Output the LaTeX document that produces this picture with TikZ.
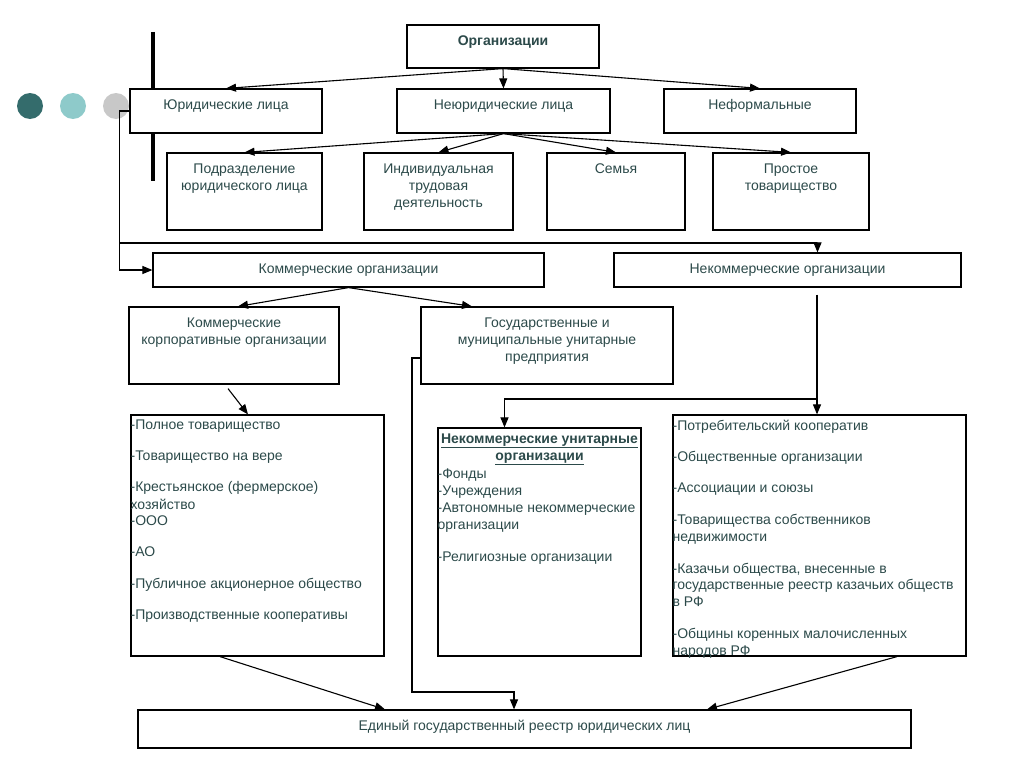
\documentclass[tikz,border=0pt]{standalone}
\usepackage{fontspec}
\setmainfont{Liberation Sans}
\usetikzlibrary{arrows.meta}

\definecolor{txtgreen}{RGB}{44,74,74}
\definecolor{dotdark}{RGB}{52,108,108}
\definecolor{dotlight}{RGB}{142,202,202}
\definecolor{dotgray}{RGB}{200,200,200}

\tikzset{
  orgbox/.style={draw, line width=1.2pt, fill=white, inner sep=0pt},
  boxtext/.style={anchor=north, inner sep=0pt, yshift=-11pt, align=center,
    text=txtgreen, font=\fontsize{14}{17}\selectfont},
  listtext/.style={anchor=north west, inner sep=0pt, yshift=-5.5pt, xshift=0pt,
    align=left, text=txtgreen, font=\fontsize{14}{16.5}\selectfont},
  link/.style={line width=1.1pt, -{Triangle[length=10pt,width=8pt]}},
  wire/.style={line width=1.1pt},
}

\begin{document}
\begin{tikzpicture}[x=1pt, y=-1pt]
\useasboundingbox (0,0) rectangle (1024,768);

% bullets and bar
\fill[dotdark] (30,106) circle (13pt);
\fill[dotlight] (73,106) circle (13pt);
\fill[dotgray] (116,106) circle (13pt);
\draw[line width=4pt] (153,32) -- (153,181);

% top levels
\node[orgbox, minimum width=192pt, minimum height=43pt,
  label={[boxtext, font=\bfseries\fontsize{14}{17}\selectfont]north:Организации}] (org) at (503,46.5) {};

\node[orgbox, minimum width=192pt, minimum height=44pt,
  label={[boxtext]north:Юридические лица}] (jur) at (226,111) {};
\node[orgbox, minimum width=213pt, minimum height=44pt,
  label={[boxtext]north:Неюридические лица}] (nejur) at (503.5,111) {};
\node[orgbox, minimum width=192pt, minimum height=44pt,
  label={[boxtext]north:Неформальные}] (neform) at (760,111) {};

\node[orgbox, minimum width=155pt, minimum height=77pt,
  label={[boxtext]north:{Подразделение\\юридического лица}}] (podr) at (244.5,191.5) {};
\node[orgbox, minimum width=149pt, minimum height=77pt,
  label={[boxtext]north:{Индивидуальная\\трудовая\\деятельность}}] (ind) at (438.5,191.5) {};
\node[orgbox, minimum width=138pt, minimum height=77pt,
  label={[boxtext]north:Семья}] (sem) at (616,191.5) {};
\node[orgbox, minimum width=156pt, minimum height=77pt,
  label={[boxtext]north:{Простое\\товарищество}}] (prost) at (791,191.5) {};

\draw[link] (org.south) -- (jur.north);
\draw[link] (org.south) -- (nejur.north);
\draw[link] (org.south) -- (neform.north);

\foreach \c in {podr, ind, sem, prost}
  \draw[link] (nejur.south) -- (\c.north);

% commercial / non-commercial
\node[orgbox, minimum width=391pt, minimum height=34pt,
  label={[boxtext]north:Коммерческие организации}] (komm) at (348.5,270) {};
\node[orgbox, minimum width=347pt, minimum height=34pt,
  label={[boxtext]north:Некоммерческие организации}] (nekomm) at (787.5,270) {};

\coordinate (split) at (120,243);
\draw[link] (jur.west) -- ++(-10,0) |- (komm.west);
\draw[link] (split) -| ([xshift=30pt]nekomm.north);

\node[orgbox, minimum width=210pt, minimum height=77pt,
  label={[boxtext]north:{Коммерческие\\корпоративные организации}}] (kkorp) at (234,345.5) {};
\node[orgbox, minimum width=252pt, minimum height=77pt,
  label={[boxtext]north:{Государственные и\\муниципальные унитарные\\предприятия}}] (gmup) at (547,345.5) {};

\draw[link] (komm.south) -- ([xshift=4pt]kkorp.north);
\draw[link] (komm.south) -- ([xshift=-75pt]gmup.north);

% lists
\node[orgbox, minimum width=253pt, minimum height=241pt,
  label={[listtext]north west:{-Полное товарищество\\[14.5pt]
    -Товарищество на вере\\[14.5pt]
    -Крестьянское (фермерское)\\[1pt]
    хозяйство\\
    -ООО\\[14.5pt]
    -АО\\[15pt]
    -Публичное акционерное общество\\[15pt]
    -Производственные кооперативы}}] (llist) at (257.5,535.5) {};

\node[orgbox, minimum width=203pt, minimum height=228pt,
  label={[boxtext, yshift=5pt, font=\bfseries\fontsize{14}{17}\selectfont]north:{\underline{Некоммерческие унитарные}\\\underline{организации}}},
  label={[listtext, yshift=-36pt, font=\fontsize{14}{17}\selectfont]north west:{-Фонды\\
    -Учреждения\\
    -Автономные некоммерческие\\
    организации\\[15pt]
    -Религиозные организации}}] (mlist) at (539.5,542) {};

\node[orgbox, minimum width=293pt, minimum height=241pt,
  label={[listtext]north west:{-Потребительский кооператив\\[14.5pt]
    -Общественные организации\\[14.5pt]
    -Ассоциации и союзы\\[15.5pt]
    -Товарищества собственников\\
    недвижимости\\[15.5pt]
    -Казачьи общества, внесенные в\\
    государственные реестр казачьих обществ\\
    в РФ\\[16pt]
    -Общины коренных малочисленных\\
    народов РФ}}] (rlist) at (819.5,535.5) {};

\draw[link] ([xshift=-6pt, yshift=-4pt]kkorp.south) -- ([xshift=-9.5pt]llist.north);

\coordinate (fork) at (817,399);
\draw[link] ([xshift=29.5pt, yshift=-7pt]nekomm.south) -- ([xshift=-2.5pt]rlist.north);
\draw[link] (fork) -| ([xshift=-35pt]mlist.north);

% register
\node[orgbox, minimum width=773pt, minimum height=38pt,
  label={[boxtext, yshift=1pt]north:Единый государственный реестр юридических лиц}] (egrul) at (524.5,729) {};

\coordinate (gbend) at (412,692);
\draw[link] ([yshift=-12.5pt]gmup.west) -| (gbend) -| ([xshift=-10.5pt]egrul.north);
\draw[link] ([xshift=-37.5pt]llist.south) -- ([xshift=-139.5pt]egrul.north);
\draw[link] ([xshift=77.5pt]rlist.south) -- ([xshift=182.5pt]egrul.north);

\end{tikzpicture}
\end{document}
